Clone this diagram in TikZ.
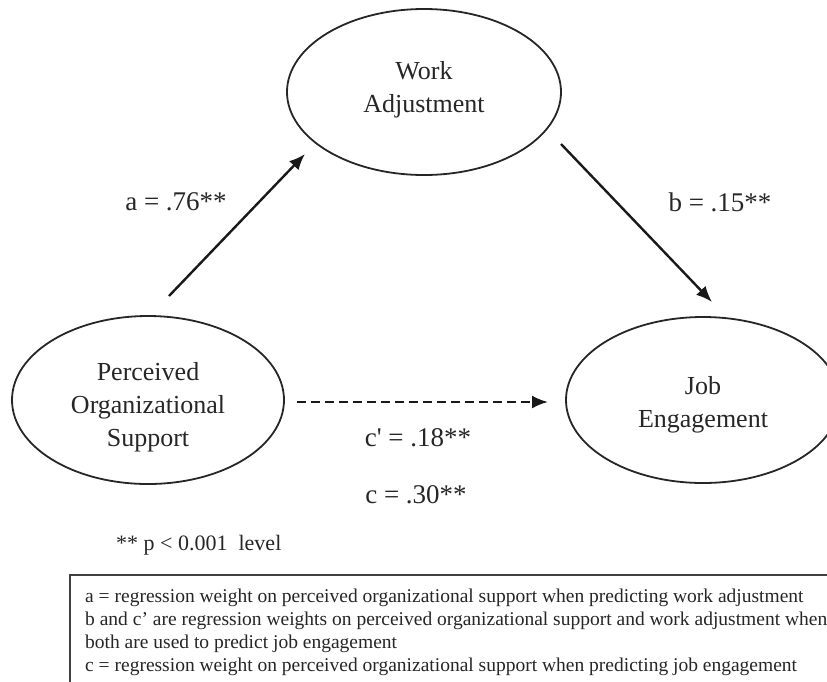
\documentclass[tikz,border=0pt]{standalone}
\usepackage{fontspec}
\setmainfont{Liberation Serif}[Ligatures=TeXOff]
\usetikzlibrary{shapes.geometric,arrows.meta}
\begin{document}
\begin{tikzpicture}[x=1pt,y=-1pt,
  construct/.style={ellipse,draw=black!85,line width=1.8pt,inner sep=0pt},
  ctext/.style={align=center,font=\fontsize{26}{33}\selectfont,text=black!85,inner sep=0pt},
  effect/.style={line width=2.4pt,draw=black!90,-{Latex[length=16pt,width=13pt]}},
  direct/.style={effect,dash pattern=on 9pt off 5pt},
  coef/.style={font=\fontsize{27}{32}\selectfont,text=black!85,inner sep=0pt},
  note/.style={font=\fontsize{19.5}{22.7}\selectfont,text=black!85,inner sep=0pt,align=left},
]
\useasboundingbox (0,0) rectangle (827,681);
\begin{scope}
\clip (0,0) rectangle (827,681);

% latent constructs
\node[construct,minimum width=274pt,minimum height=166pt] (wa) at (424,92) {};
\node[construct,minimum width=272pt,minimum height=168pt] (pos) at (148,400) {};
\node[construct,minimum width=274pt,minimum height=166pt] (je) at (703,400) {};
\node[ctext,yshift=2pt] (waT) at (wa) {Work\\Adjustment};
\node[ctext,yshift=-7pt] (posT) at (pos) {Perceived\\Organizational\\Support};
\node[ctext,yshift=-5pt] (jeT) at (je) {Job\\Engagement};

% path end points
\coordinate (aS) at (169,296);
\coordinate (aE) at (305,154);
\coordinate (bS) at (561,144);
\coordinate (bE) at (712,302);
\coordinate (cS) at (297,402);
\coordinate (cE) at (548,402);

\draw[effect] (aS) -- (aE);
\draw[effect] (bS) -- (bE);
\draw[direct] (cS) -- (cE);

% coefficients
\node[coef] (la) at (176,202) {a = .76**};
\node[coef] (lb) at (720,202) {b = .15**};
\node[coef] (lcp) at (418,438) {c' = .18**};
\node[coef] (lc) at (416,495) {c = .30**};
\node[coef,font=\fontsize{22}{26}\selectfont,anchor=west] (sig) at (116,545) {** p < 0.001\ \ level};

% legend box
\draw[line width=2.2pt,draw=black!75] (70,575) rectangle (860,720);
\node[note,anchor=base west] (legend) at (85,671) {a = regression weight on perceived organizational support when predicting work adjustment\\
b and c’ are regression weights on perceived organizational support and work adjustment when\\
both are used to predict job engagement\\
c = regression weight on perceived organizational support when predicting job engagement};
\end{scope}
\end{tikzpicture}
\end{document}
